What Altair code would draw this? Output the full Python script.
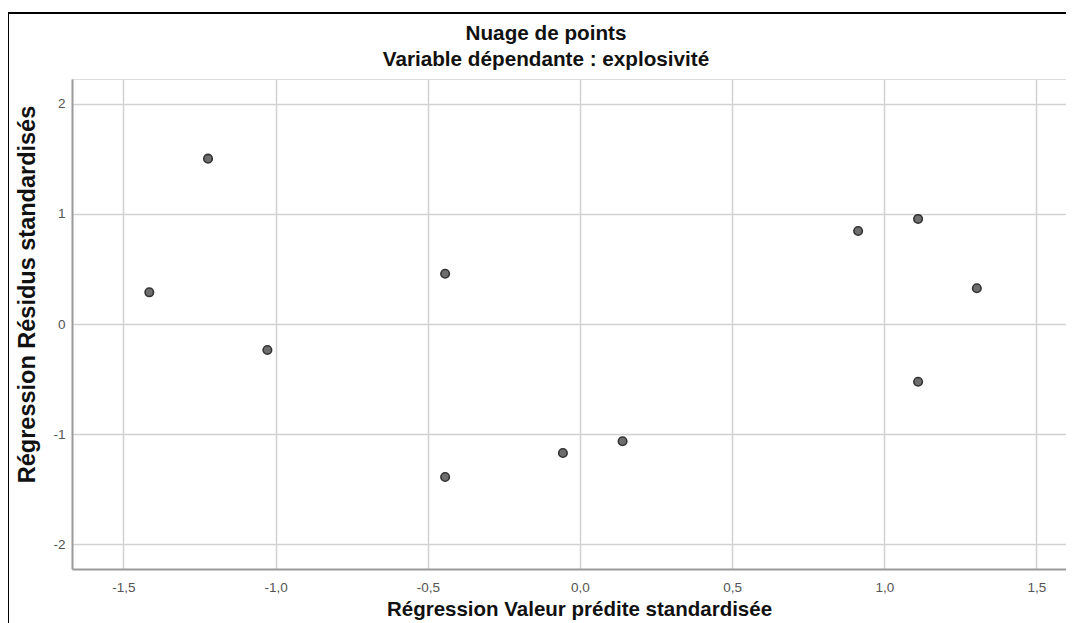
import altair as alt
import pandas as pd

# Standardized predicted value (x) and standardized residual (y)
pred = [-1.415, -1.222, -1.027, -0.443, -0.443, -0.056, 0.140, 0.914, 1.111, 1.304, 1.111]
resid = [0.288, 1.503, -0.236, 0.457, -1.391, -1.173, -1.066, 0.845, 0.955, 0.325, -0.525]

x_ticks = [-1.5, -1.0, -0.5, 0.0, 0.5, 1.0, 1.5]
y_ticks = [-2, -1, 0, 1, 2]

title_lines = ["Nuage de points", "Variable dépendante : explosivité"]
x_title = "Régression Valeur prédite standardisée"
y_title = "Régression Résidus standardisés"

df = pd.DataFrame({"pred": pred, "resid": resid})

FONT = "Liberation Sans"
W, H = 994, 490

x_axis = alt.Axis(
    values=x_ticks,
    labelExpr="(datum.value < 0 ? '-' : '') + replace(format(abs(datum.value), '.1f'), '.', ',')",
    grid=True, gridColor="#d2d2d2", gridWidth=1.5,
    domainColor="#9a9a9a", domainWidth=2,
    ticks=False, labelFlush=False, labelOverlap=False,
    labelFont=FONT, labelFontSize=13.5, labelColor="#555555", labelPadding=11,
    title=x_title, titleFont=FONT, titleFontSize=20.5, titleFontWeight="bold",
    titleColor="#111111", titleX=507, titleY=46, titleAlign="center",
    titleBaseline="alphabetic",
)
y_axis = alt.Axis(
    values=y_ticks,
    labelExpr="(datum.value < 0 ? '-' : '') + format(abs(datum.value), '.0f')",
    grid=True, gridColor="#d2d2d2", gridWidth=1.5,
    domainColor="#9a9a9a", domainWidth=2,
    ticks=False, labelFlush=False, labelOverlap=False,
    labelFont=FONT, labelFontSize=13.5, labelColor="#555555", labelPadding=7,
    title=y_title, titleFont=FONT, titleFontSize=23.5, titleFontWeight="bold",
    titleColor="#111111", titleX=-38, titleY=215, titleAlign="center",
    titleBaseline="alphabetic", titleAngle=270,
)

points = alt.Chart(df).mark_point(
    shape="circle", filled=True, size=72, fill="#6e6e6e",
    stroke="#333333", strokeWidth=1.6, opacity=1,
).encode(
    x=alt.X("pred:Q", scale=alt.Scale(domain=[-1.669, 1.597], nice=False, zero=False), axis=x_axis),
    y=alt.Y("resid:Q", scale=alt.Scale(domain=[-2.227, 2.227], nice=False, zero=False), axis=y_axis),
)

frame = alt.Chart(pd.DataFrame({"k": [0]})).mark_rect(
    filled=False, stroke="black", strokeWidth=2, clip=False
).encode(
    x=alt.value(-64), x2=alt.value(1200), y=alt.value(-66), y2=alt.value(700)
)

chart = alt.layer(frame, points).properties(
    width=W, height=H,
    title=alt.TitleParams(
        text=title_lines, font=FONT, fontSize=20.7, fontWeight="bold", color="#111111",
        anchor="middle", frame="group", dx=-23, offset=-59, lineHeight=26.5,
    ),
    padding={"left": 64, "top": 71, "right": 0, "bottom": 56},
    autosize=alt.AutoSizeParams(type="none"),
).configure_view(stroke=None).configure(background="white")

chart.save("out.html", embed_options={"renderer": "svg", "actions": False})
